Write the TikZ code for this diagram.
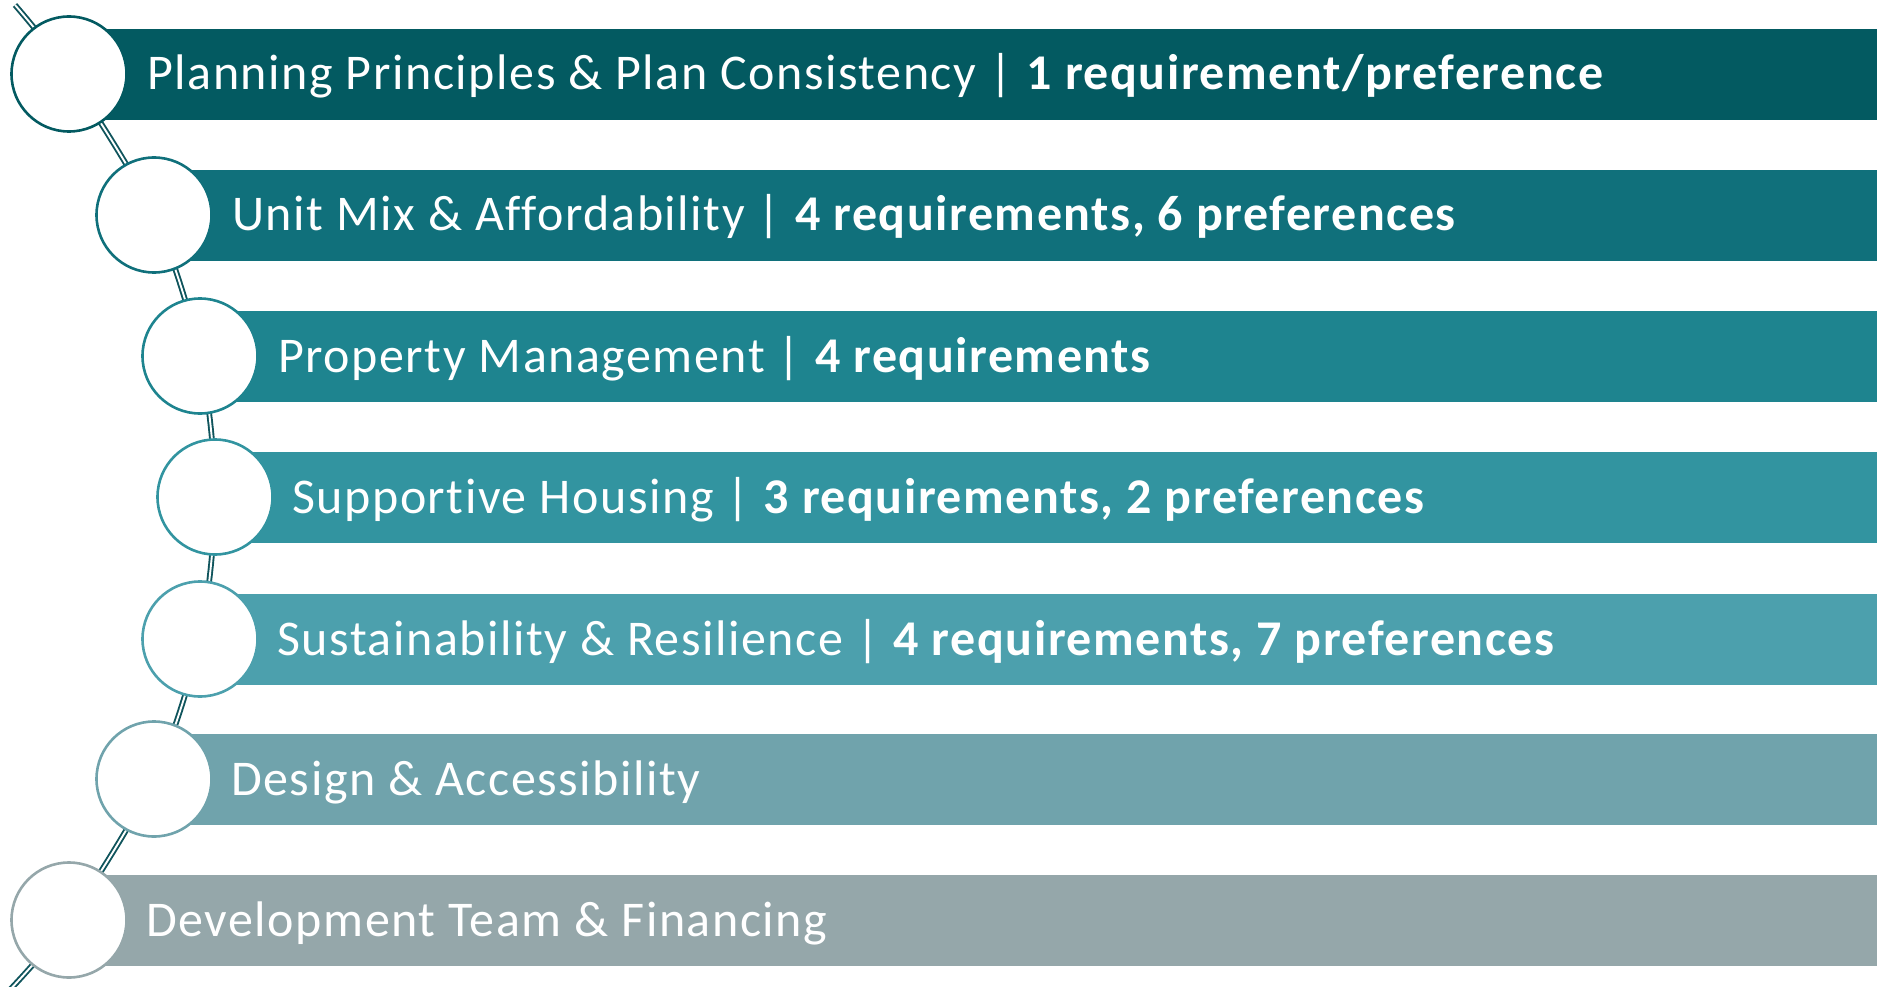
\documentclass[tikz,border=0pt]{standalone}
\usepackage{fontspec}
\setmainfont{Carlito}[Ligatures={NoCommon}, LetterSpace=3.1]
\definecolor{cA}{HTML}{035A61}
\definecolor{cB}{HTML}{10707B}
\definecolor{cC}{HTML}{1E848F}
\definecolor{cD}{HTML}{3294A0}
\definecolor{cE}{HTML}{4CA0AD}
\definecolor{cF}{HTML}{70A3AC}
\definecolor{cG}{HTML}{95A7AA}
\definecolor{link}{HTML}{0F545C}
\begin{document}
\begin{tikzpicture}[x=1pt,y=-1pt,
  bar/.style={fill=#1, draw=none},
  ring/.style={circle, draw=#1, line width=2.6pt, fill=white, minimum size=115pt, inner sep=0pt},
  label/.style={anchor=base west, text=white, font=\fontsize{50}{60}\selectfont, inner sep=0pt},
  chain/.style={draw=link, line width=1.9pt, double=white, double distance=1.9pt}]
\useasboundingbox (0,0) rectangle (1877,987);
% bars
\foreach \cx/\cy/\c in {69/74/cA,154/215/cB,200/356/cC,215/497/cD,200/639/cE,154/779/cF,69/920/cG}{
  \fill[bar=\c] (\cx,\cy-45) rectangle (1877,\cy+46);
}
% chain coordinates
\coordinate (t0) at (15,5);
\coordinate (p1) at (69,74);
\coordinate (p2) at (154,215);
\coordinate (p3) at (200,356);
\coordinate (p4) at (215,497);
\coordinate (p5) at (200,639);
\coordinate (p6) at (154,779);
\coordinate (p7) at (69,920);
\coordinate (b0) at (5,995);
\draw[chain] plot[smooth, tension=0.5] coordinates {(15,5) (69,74) (154,215) (200,356) (215,497) (200,639) (154,779) (69,920) (5,995)};
% circles
\node[ring=cA] (n1) at (p1) {};
\node[ring=cB] (n2) at (p2) {};
\node[ring=cC] (n3) at (p3) {};
\node[ring=cD] (n4) at (p4) {};
\node[ring=cE] (n5) at (p5) {};
\node[ring=cF] (n6) at (p6) {};
\node[ring=cG] (n7) at (p7) {};
% labels
\node[label] (l1) at (147,90) {Planning Principles \& Plan Consistency | \textbf{1 requirement/preference}};
\node[label] (l2) at (232,231) {Unit Mix \& Affordability | \textbf{4 requirements, 6 preferences}};
\node[label] (l3) at (278,372) {Property Management | \textbf{4 requirements}};
\node[label] (l4) at (292,513) {Supportive Housing | \textbf{3 requirements, 2 preferences}};
\node[label] (l5) at (277,655) {Sustainability \& Resilience | \textbf{4 requirements, 7 preferences}};
\node[label] (l6) at (231,795) {Design \& Accessibility};
\node[label] (l7) at (146,936) {Development Team \& Financing};
\end{tikzpicture}
\end{document}
